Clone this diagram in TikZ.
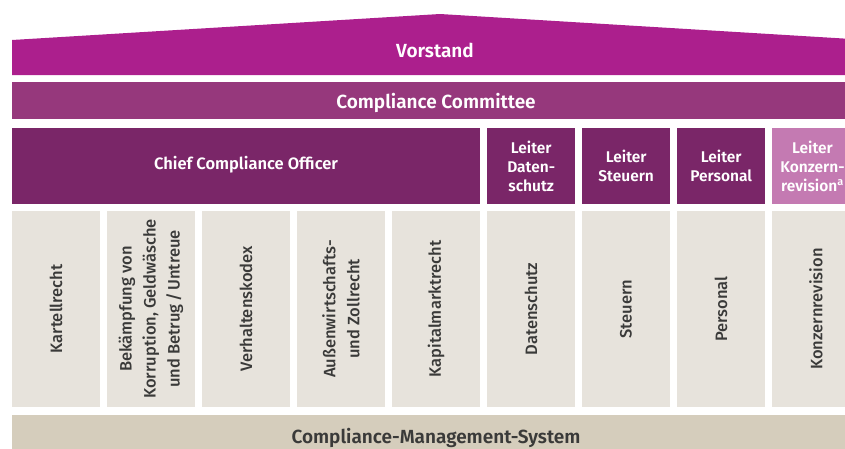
\documentclass[tikz,border=0pt]{standalone}
\usepackage{fontspec}
\setmainfont{Fira Sans}[BoldFont={Fira Sans SemiBold}]
\newfontfamily\medfont{Fira Sans Medium}
\definecolor{vorstandc}{HTML}{AC1F8D}
\definecolor{committeec}{HTML}{96387C}
\definecolor{officerc}{HTML}{7A2668}
\definecolor{revisionc}{HTML}{C47AB2}
\definecolor{areac}{HTML}{E7E3DC}
\definecolor{basec}{HTML}{D5CDBC}
\definecolor{textc}{HTML}{3A3A39}
\tikzset{
  headtext/.style={text=white, font=\bfseries\fontsize{19}{23}\selectfont, inner sep=0pt},
  bar/.style={fill=#1, draw=none, inner sep=0pt, anchor=north west},
  leitertext/.style={text=white, inner sep=0pt, align=center, font=\bfseries\fontsize{15.5}{19}\selectfont},
  leiter/.style={fill=#1, draw=none, inner sep=0pt, minimum width=88pt, minimum height=76pt,
    anchor=north west, leitertext},
  area/.style={fill=areac, draw=none, inner sep=0pt, rotate=90, minimum width=196pt,
    minimum height=88pt, text=textc, align=center, font=\medfont\fontsize{16.5}{24}\selectfont},
}
\begin{document}
\begin{tikzpicture}[x=1pt,y=-1pt]
\useasboundingbox (0,0) rectangle (845,448);
\clip (0,0) rectangle (845,448);
% roof
\fill[vorstandc] (12,40) -- (440,14) -- (868,40) -- (868,75) -- (12,75) -- cycle;
\node[headtext, anchor=base] (vorstand) at (435,57) {Vorstand};
% committee
\node[bar=committeec, minimum width=848pt, minimum height=37pt] (ccbox) at (12,82) {};
\node[headtext, anchor=base] (cc) at (436,108) {Compliance Committee};
% officer row
\node[bar=officerc, minimum width=468pt, minimum height=76pt] (ccobox) at (12,128) {};
\node[text=white, inner sep=0pt, anchor=base, font=\bfseries\fontsize{16.5}{19}\selectfont] (cco) at (246,169.5) {Chief Compliance Officer};
\node[leiter=officerc] (ld) at (487,128) {Leiter\\Daten-\\schutz};
\node[leiter=officerc] (ls) at (582,128) {Leiter\\Steuern};
\node[leiter=officerc] (lp) at (677,128) {Leiter\\Personal};
\node[bar=revisionc, minimum width=88pt, minimum height=76pt] (lkbox) at (772,128) {};
\node[leitertext] (lk) at (812.5,166) {Leiter\\Konzern-\\revision\textsuperscript{a}};
% areas
\node[area] (a1) at (56,309) {Kartellrecht};
\node[area] (a2) at (151,309) {Bekämpfung von\\Korruption, Geldwäsche\\und Betrug\,/\,Untreue};
\node[area] (a3) at (246,309) {Verhaltenskodex};
\node[area] (a4) at (341,309) {Außenwirtschafts-\\und Zollrecht};
\node[area] (a5) at (436,309) {Kapitalmarktrecht};
\node[area] (a6) at (531,309) {Datenschutz};
\node[area] (a7) at (626,309) {Steuern};
\node[area] (a8) at (721,309) {Personal};
\node[area] (a9) at (816,309) {Konzernrevision};
% base
\node[bar=basec, minimum width=848pt, minimum height=45pt] (cmsbox) at (12,415) {};
\node[text=textc, inner sep=0pt, anchor=base, font=\bfseries\fontsize{19}{23}\selectfont] (cms) at (436,443) {Compliance-Management-System};
\end{tikzpicture}
\end{document}
